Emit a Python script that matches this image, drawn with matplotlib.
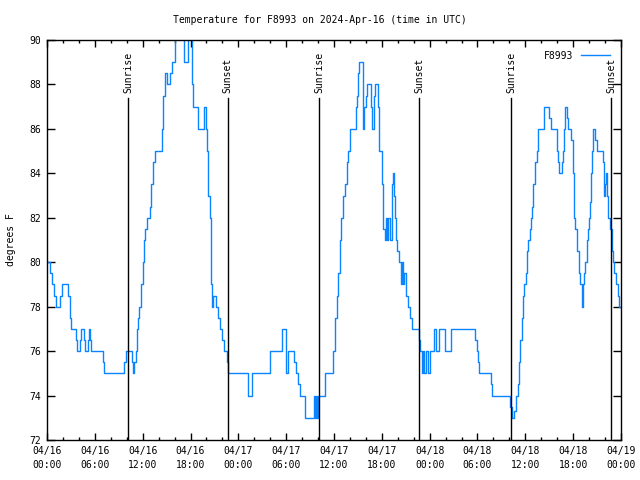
import matplotlib
matplotlib.use("Agg")
import matplotlib.pyplot as plt
from datetime import datetime, timedelta

#   DATA  (hours after 2024-04-16 00:00 UTC, temperature in F, held until next point)
HOURS = [
    0.00, 0.38, 0.63, 0.88, 1.13, 1.63, 1.88, 2.63, 2.89, 3.01,
    3.64, 3.76, 4.14, 4.26, 4.64, 4.77, 5.14, 5.27, 5.39, 5.52,
    7.02, 7.15, 9.66, 9.91, 10.66, 10.79, 10.91, 11.16, 11.29, 11.41,
    11.54, 11.79, 12.04, 12.17, 12.29, 12.54, 12.92, 13.05, 13.30, 13.55,
    14.43, 14.55, 14.80, 15.05, 15.30, 15.43, 15.68, 16.06, 17.19, 17.69,
    18.19, 18.31, 18.94, 19.70, 19.94, 20.07, 20.20, 20.45, 20.57, 20.70,
    20.82, 21.20, 21.45, 21.70, 21.95, 22.20, 22.58, 22.70,
    25.21, 25.72, 27.97, 29.48, 29.98, 30.23, 30.98, 31.23, 31.49, 31.74,
    32.36, 33.49, 33.62, 33.74, 33.87, 33.99, 34.87, 35.88, 36.13, 36.38,
    36.50, 36.75, 36.88, 37.13, 37.38, 37.63, 37.76, 38.01, 38.76, 38.89,
    39.01, 39.14, 39.64, 39.76, 40.02, 40.14, 40.64, 40.76, 41.02, 41.14,
    41.52, 41.64, 42.02, 42.15, 42.40, 42.52, 42.65, 42.77, 43.03, 43.28,
    43.40, 43.53, 43.65, 43.78, 43.90, 44.15, 44.41, 44.53, 44.66, 44.78,
    45.03, 45.28, 45.53, 45.79, 46.66, 46.79, 47.04, 47.16, 47.29, 47.54,
    47.79, 48.04, 48.54, 48.79, 49.17, 49.92, 50.68, 53.69, 53.94, 54.06,
    54.19, 55.69, 55.82, 58.08, 58.33, 58.58, 58.83, 59.08, 59.21, 59.33,
    59.58, 59.71, 59.83, 60.09, 60.21, 60.34, 60.59, 60.71, 60.84, 60.96,
    61.21, 61.46, 61.59, 62.34, 62.97, 63.22, 63.97, 64.10, 64.22, 64.60,
    64.73, 64.85, 64.98, 65.23, 65.36, 65.73, 65.98, 66.11, 66.23, 66.48,
    66.73, 66.86, 67.11, 67.24, 67.37, 67.49, 67.74, 67.87, 67.99, 68.12,
    68.24, 68.37, 68.49, 68.74, 68.99, 69.75, 69.87, 70.00, 70.12, 70.25,
    70.37, 70.62, 70.87, 71.00, 71.12, 71.37, 71.62, 71.75, 72.00,
]
TEMPS = [
    80, 79.5, 79, 78.5, 78, 78.5, 79, 78.5, 77.5, 77,
    76.5, 76, 76.5, 77, 76.5, 76, 76.5, 77, 76.5, 76,
    75.5, 75, 75.5, 76, 75.5, 75, 75.5, 76, 77, 77.5,
    78, 79, 80, 81, 81.5, 82, 82.5, 83.5, 84.5, 85,
    86, 87.5, 88.5, 88, 88, 88.5, 89, 91, 89, 91,
    88, 87, 86, 87, 86, 85, 83, 82, 79, 78,
    78.5, 78, 77.5, 77, 76.5, 76, 75.5, 75,
    74, 75, 76, 77, 75, 76, 75.5, 75, 74.5, 74,
    73, 74, 73, 74, 73, 74, 75, 76, 77.5, 78.5,
    79.5, 81, 82, 83, 83.5, 84.5, 85, 86, 87, 87.5,
    88.5, 89, 86, 87, 87.5, 88, 87, 86, 87.5, 88,
    87, 85, 83.5, 81.5, 81, 82, 81, 82, 81, 83.5,
    84, 83, 82, 81, 80.5, 80, 79, 80, 79, 79.5,
    78.5, 78, 77.5, 77, 76.5, 76, 75, 76, 75, 76,
    75, 76, 77, 76, 77, 76, 77, 76.5, 76, 75.5,
    75, 74.5, 74, 73.5, 73, 73.3, 74, 74.5, 75.5, 76.5,
    77.5, 78.5, 79, 79.5, 80.5, 81, 81.5, 82, 82.5, 83.5,
    84.5, 85, 86, 87, 86.5, 86, 85, 84.5, 84, 84.5,
    85, 86, 87, 86.5, 86, 85.5, 84, 82, 81.5, 80.5,
    79.5, 79, 78, 79, 79.5, 80, 81, 81.5, 82, 82.7,
    84, 85, 86, 85.5, 85, 84.5, 83, 83.5, 84, 83,
    82, 81.5, 80.5, 80, 79.5, 79, 78.5, 78, 78,
]

SUNRISE = [10.20, 34.17, 58.23]
SUNSET = [22.67, 46.70, 70.77]

START = datetime(2024, 4, 16)
STATION = "F8993"

FONT = "DejaVu Sans Mono"
FS = 7

fig = plt.figure(figsize=(6.4, 4.8), dpi=100)
ax = fig.add_axes([47 / 640, 40 / 480, 574 / 640, 400 / 480])

ax.plot(HOURS, TEMPS, drawstyle="steps-post", color="#0a84ff", lw=1.0, label=STATION)

# sunrise / sunset markers
for h in SUNRISE:
    ax.plot([h, h], [72, 87.4], color="black", lw=1.0)
    ax.text(h, 87.6, "Sunrise", rotation=90, ha="center", va="bottom",
            family=FONT, fontsize=FS)
for h in SUNSET:
    ax.plot([h, h], [72, 87.4], color="black", lw=1.0)
    ax.text(h, 87.6, "Sunset", rotation=90, ha="center", va="bottom",
            family=FONT, fontsize=FS)

ax.set_xlim(0, 72)
ax.set_ylim(72, 90)

xt = list(range(0, 73, 6))
ax.set_xticks(xt)
ax.set_xticks(list(range(0, 73, 2)), minor=True)
ax.set_xticklabels([(START + timedelta(hours=h)).strftime("%m/%d\n%H:%M") for h in xt],
                   family=FONT, fontsize=FS, linespacing=1.5)
yt = list(range(72, 91, 2))
ax.set_yticks(yt)
ax.set_yticklabels([str(v) for v in yt], family=FONT, fontsize=FS)

ax.tick_params(which="both", direction="in", top=True, right=True, width=1.0, pad=4)
ax.tick_params(which="major", length=5)
ax.tick_params(which="minor", length=2.5)
ax.tick_params(axis="y", which="major", length=6)
for s in ax.spines.values():
    s.set_linewidth(1.0)

ax.set_ylabel("degrees F", family=FONT, fontsize=FS, labelpad=10)
fig.text(0.5, 1 - 20 / 480, f"Temperature for {STATION} on 2024-Apr-16 (time in UTC)",
         ha="center", va="center", family=FONT, fontsize=FS)

leg = ax.legend(loc="upper right", frameon=False, markerfirst=False,
                handlelength=3.0, handletextpad=0.8, borderaxespad=0.7,
                prop={"family": FONT, "size": FS})

fig.savefig("out.png", dpi=100)
